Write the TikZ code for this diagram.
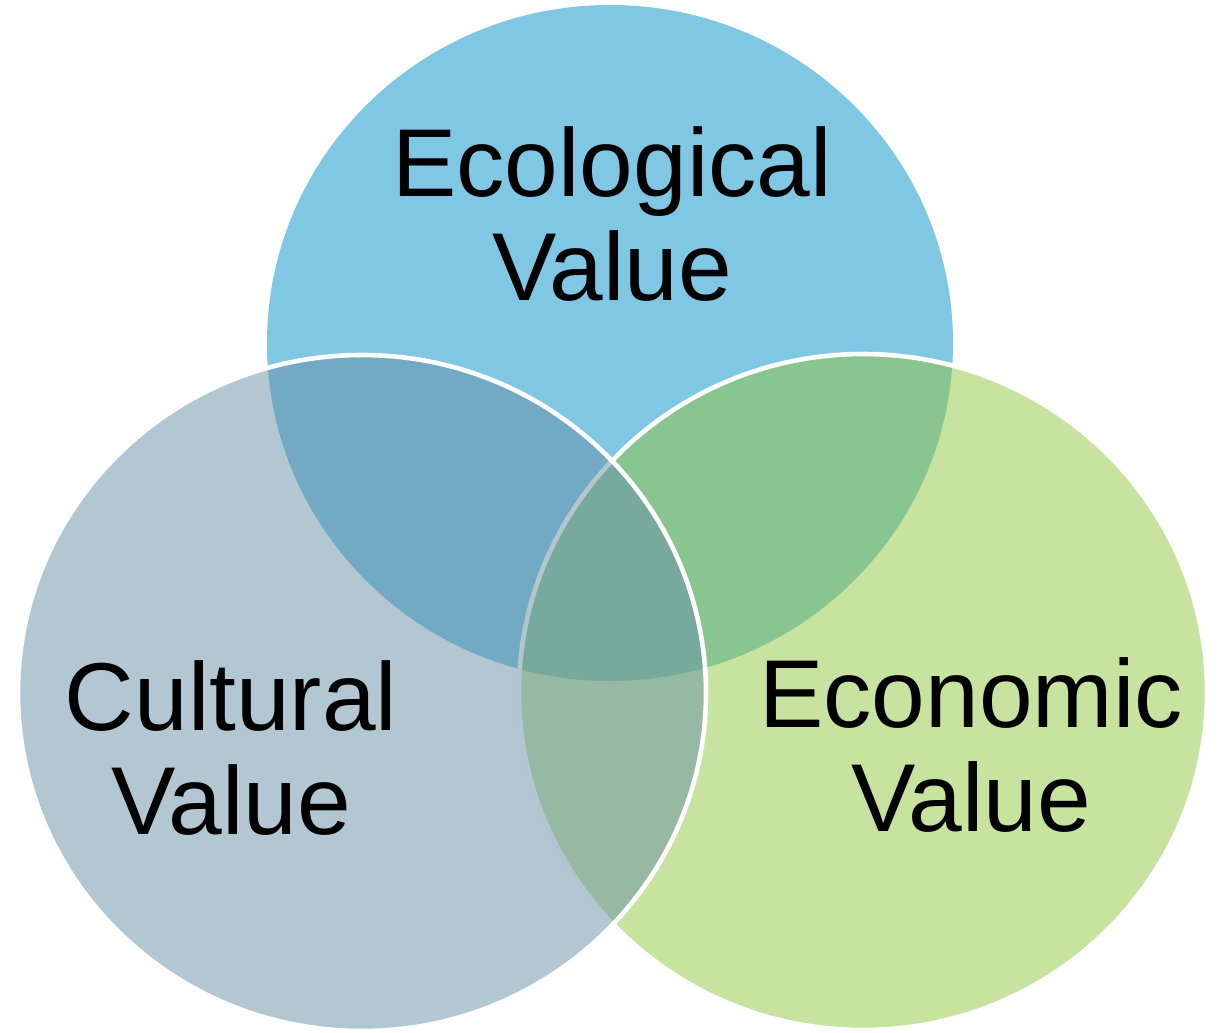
\documentclass[tikz,border=0pt]{standalone}
\usepackage{fontspec}
\setmainfont{Liberation Sans}
\definecolor{ecoblue}{RGB}{127,199,227}
\definecolor{culgray}{RGB}{103,143,167}
\definecolor{econgreen}{RGB}{145,197,65}
\begin{document}
\begin{tikzpicture}[x=0.025cm, y=-0.025cm,
        venn/.style={draw=white, line width=0.115cm, fill opacity=0.5},
        vlabel/.style={inner sep=0pt, align=center, font=\fontsize{68.6pt}{74pt}\selectfont}]
            \useasboundingbox (0, 0) rectangle (1222, 1032);
            % circles: top, right, left
            \fill[ecoblue] (610, 343) ellipse [x radius=343, y radius=338];
            \draw[venn, fill=econgreen] (863, 692) ellipse [x radius=344, y radius=338];
            \draw[venn, fill=culgray] (362, 693) ellipse [x radius=344, y radius=338];
            % labels
            \node[vlabel] (ecological) at (612, 214) {Ecological\\Value};
            \node[vlabel] (cultural) at (231, 748) {Cultural\\Value};
            \node[vlabel] (economic) at (971, 745) {Economic\\Value};
        \end{tikzpicture}
\end{document}
